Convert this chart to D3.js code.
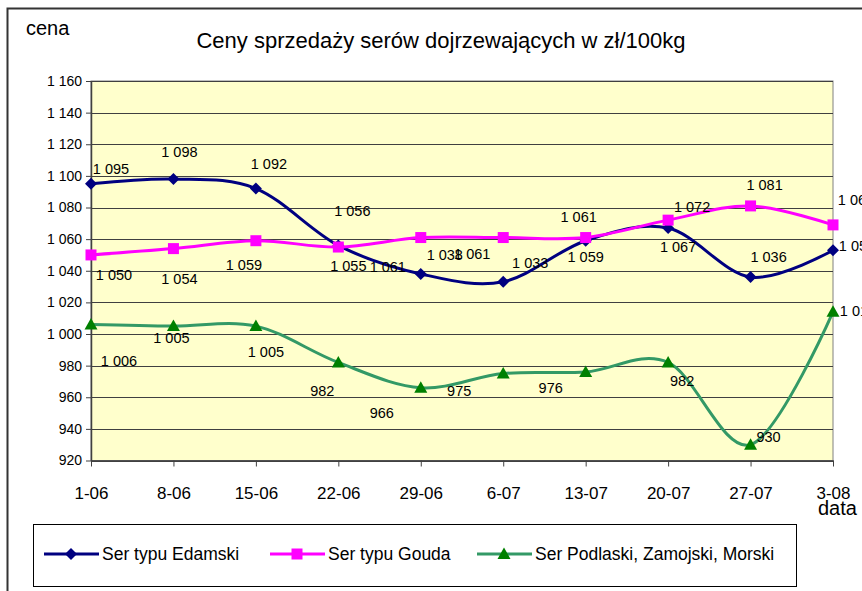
<!DOCTYPE html>
<html>
<head>
<meta charset="utf-8">
<script src="https://cdn.jsdelivr.net/npm/d3@7"></script>
<style>
  body { margin: 0; background: #fff; }
  text { font-family: "Liberation Sans", Arial, sans-serif; fill: #000; }
</style>
</head>
<body>
<div id="viz"></div>
<script>
// data
const dates = ['1-06', '8-06', '15-06', '22-06', '29-06', '6-07', '13-07', '20-07', '27-07', '3-08'];
const edamski = [1095, 1098, 1092, 1056, 1038, 1033, 1059, 1067, 1036, 1053];
const gouda = [1050, 1054, 1059, 1055, 1061, 1061, 1061, 1072, 1081, 1069];
const podlaski = [1006, 1005, 1005, 982, 966, 975, 976, 982, 930, 1014];
const yTicks = [920, 940, 960, 980, 1000, 1020, 1040, 1060, 1080, 1100, 1120, 1140, 1160];
const seriesNames = ['Ser typu Edamski', 'Ser typu Gouda', 'Ser Podlaski, Zamojski, Morski'];

// label nudges (dx, dy from the point) - excel put them all over the place
const nudgeEdamski = [[20, -10], [6, -22], [13, -20], [14, -29], [24, -14], [27, -14], [0, 21], [10, 24], [18, -15], [24, 1]];
const nudgeGouda = [[23, 25], [6, 35], [-12, 29], [10, 24], [-33, 34], [-31, 21], [-7, -16], [24, -8], [14, -16], [23, -20]];
const nudgePodlaski = [[28, 41], [-2, 17], [10, 31], [-16, 34], [-39, 30], [-44, 22], [-35, 21], [14, 24], [18, -3], [25, 4]];

const width = 862;
const height = 591;
const plot = {left: 91, right: 833, top: 81, bottom: 460.5};

const fmt = d3.formatLocale({decimal: ',', thousands: ' ', grouping: [3], currency: ['', ' zł']}).format(',');

const svg = d3.select('#viz')
  .append('svg')
  .attr('width', width)
  .attr('height', height);

// chart area border (runs off the picture on the right and bottom)
svg.append('rect')
  .attr('x', 7.5).attr('y', 8.5)
  .attr('width', 900).attr('height', 700)
  .attr('fill', '#fff')
  .attr('stroke', '#333')
  .attr('stroke-width', 2);

const x = d3.scalePoint().domain(dates).range([plot.left, plot.right]);
const y = d3.scaleLinear().domain([920, 1160]).range([plot.bottom, plot.top]);

svg.append('rect')
  .attr('x', plot.left).attr('y', plot.top)
  .attr('width', plot.right - plot.left)
  .attr('height', plot.bottom - plot.top)
  .attr('fill', '#ffffcc')
  .attr('stroke', '#808080');

// gridlines
svg.append('g')
  .selectAll('line')
  .data(yTicks)
  .enter()
  .append('line')
  .attr('x1', plot.left).attr('x2', plot.right)
  .attr('y1', d => Math.round(y(d)) + 0.5).attr('y2', d => Math.round(y(d)) + 0.5)
  .attr('stroke', '#404040')
  .attr('stroke-width', 1);

// axes
const yAxis = svg.append('g')
  .attr('transform', `translate(${plot.left},0)`)
  .call(d3.axisLeft(y).tickValues(yTicks).tickFormat(fmt).tickSize(5).tickSizeOuter(0));
yAxis.select('.domain').attr('stroke', '#404040').attr('stroke-width', 1.5);
yAxis.selectAll('.tick line').attr('stroke', '#404040');
yAxis.selectAll('.tick text')
  .attr('x', -9)
  .style('font-family', '"Liberation Sans", Arial, sans-serif')
  .style('font-size', '14px')
  .attr('fill', '#000');

const xAxis = svg.append('g')
  .attr('transform', `translate(0,${plot.bottom})`)
  .call(d3.axisBottom(x).tickSize(6).tickSizeOuter(0));
xAxis.select('.domain').attr('stroke', '#404040').attr('stroke-width', 1.5);
xAxis.selectAll('.tick line').attr('stroke', '#404040');
xAxis.selectAll('.tick text')
  .attr('y', 38.5)
  .attr('dy', 0)
  .style('font-family', '"Liberation Sans", Arial, sans-serif')
  .style('font-size', '17px')
  .attr('fill', '#000');

// markers
const diamond = 'M0,-6L6,0L0,6L-6,0Z';
const square = 'M-5.5,-5.5H5.5V5.5H-5.5Z';
const triangle = 'M0,-6.5L6.5,5L-6.5,5Z';

const series = [
  {name: seriesNames[0], values: edamski, nudge: nudgeEdamski, line: '#000080', fill: '#000080', marker: diamond},
  {name: seriesNames[1], values: gouda, nudge: nudgeGouda, line: '#ff00ff', fill: '#ff00ff', marker: square},
  {name: seriesNames[2], values: podlaski, nudge: nudgePodlaski, line: '#339966', fill: '#008000', marker: triangle}
];

const line = d3.line()
  .x((d, i) => x(dates[i]))
  .y(d => y(d))
  .curve(d3.curveCardinal.tension(0));

series.forEach(s => {
  const g = svg.append('g');
  g.append('path')
    .attr('d', line(s.values))
    .attr('fill', 'none')
    .attr('stroke', s.line)
    .attr('stroke-width', 3)
    .attr('stroke-linejoin', 'round');
  g.selectAll('.mk')
    .data(s.values)
    .enter()
    .append('path')
    .attr('class', 'mk')
    .attr('d', s.marker)
    .attr('transform', (d, i) => `translate(${x(dates[i])},${y(d)})`)
    .attr('fill', s.fill);
});

// data labels
series.forEach(s => {
  svg.append('g')
    .selectAll('text')
    .data(s.values)
    .enter()
    .append('text')
    .attr('x', (d, i) => x(dates[i]) + s.nudge[i][0])
    .attr('y', (d, i) => y(d) + s.nudge[i][1])
    .attr('text-anchor', 'middle')
    .style('font-size', '14.5px')
    .text(d => fmt(d));
});

// titles
svg.append('text')
  .attr('x', 441).attr('y', 48)
  .attr('text-anchor', 'middle')
  .style('font-size', '22px')
  .text('Ceny sprzedaży serów dojrzewających w zł/100kg');

svg.append('text')
  .attr('x', 26).attr('y', 35)
  .style('font-size', '20px')
  .text('cena');

svg.append('text')
  .attr('x', 818).attr('y', 515)
  .style('font-size', '20px')
  .text('data');

// legend
const legend = svg.append('g');
legend.append('rect')
  .attr('x', 33.5).attr('y', 524.5)
  .attr('width', 763).attr('height', 62)
  .attr('fill', '#fff')
  .attr('stroke', '#000');

const legendX = [44, 270, 477];
series.forEach((s, i) => {
  const item = legend.append('g').attr('transform', `translate(${legendX[i]},554)`);
  item.append('line')
    .attr('x1', 0).attr('x2', 55)
    .attr('stroke', s.line)
    .attr('stroke-width', 3);
  item.append('path')
    .attr('d', s.marker)
    .attr('transform', 'translate(27,0)')
    .attr('fill', s.fill);
  item.append('text')
    .attr('x', 58).attr('y', 6)
    .style('font-size', '17.5px')
    .text(s.name);
});
</script>
</body>
</html>
